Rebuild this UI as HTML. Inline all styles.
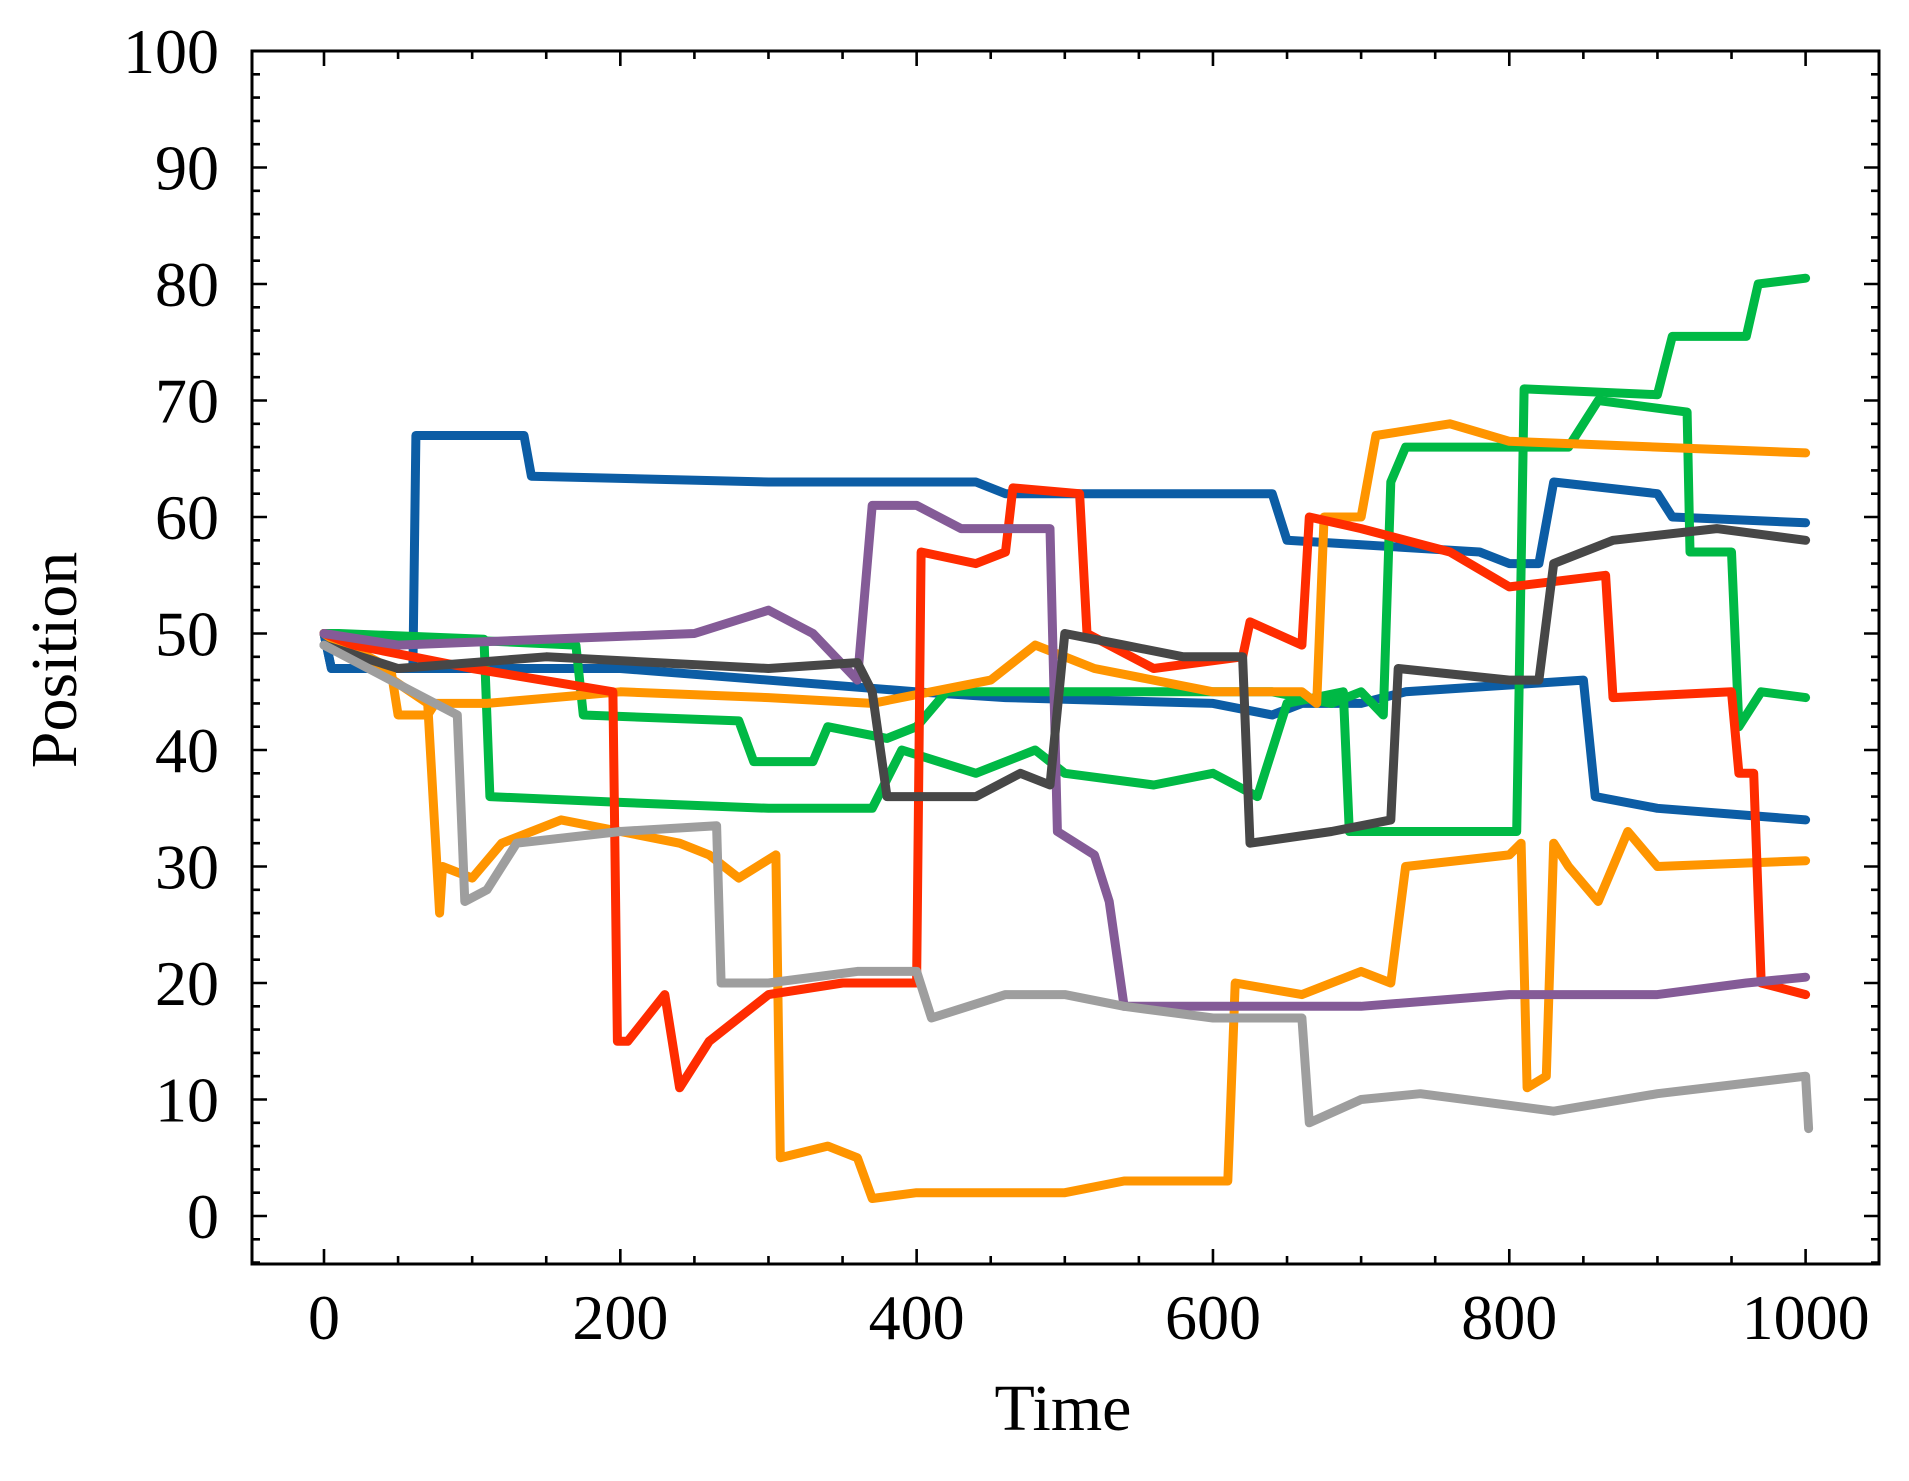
<!DOCTYPE html>
<html><head><meta charset="utf-8"><style>
html,body{margin:0;padding:0;background:#fff;}
svg text{font-family:"Liberation Serif",serif;fill:#000;}
</style></head><body>
<svg id="chart" width="1909" height="1476" viewBox="0 0 1909 1476" xmlns="http://www.w3.org/2000/svg">
<rect width="1909" height="1476" fill="#fff"/>
<g id="series"></g>
<g id="axes"></g>
</svg>
<script>
const xTicks=[0,200,400,600,800,1000];
const yTicks=[0,10,20,30,40,50,60,70,80,90,100];
const colors=["#0C5DA5","#0C5DA5","#00B945","#00B945","#FF9500","#FF9500","#FF2C00","#845B97","#474747","#9e9e9e"];
const s0t=[0,5,60,62,135,140,300,440,460,640,650,780,800,820,830,900,910,1000];
const s0v=[50,47,47,67,67,63.5,63,63,62,62,58,57,56,56,63,62,60,59.5];
const s1t=[0,5,200,400,460,600,640,660,700,730,850,858,900,1000];
const s1v=[50,47,47,45,44.5,44,43,44,44,45,46,36,35,34];
const s2t=[0,10,108,112,200,300,370,390,440,480,500,560,600,630,640,650,688,692,805,810,900,910,960,968,1000];
const s2v=[50,50,49.5,36,35.5,35,35,40,38,40,38,37,38,36,40,44,45,33,33,71,70.5,75.5,75.5,80,80.5];
const s3t=[0,170,175,280,290,330,340,380,400,420,520,640,680,700,715,720,730,840,860,920,922,950,955,970,1000];
const s3v=[50,49,43,42.5,39,39,42,41,42,45,45,45,44,45,43,63,66,66,70,69,57,57,42,45,44.5];
const s4t=[0,45,50,70,75,110,200,300,370,450,480,520,600,660,670,675,700,710,760,800,900,1000];
const s4v=[50,47,43,43,44,44,45,44.5,44,46,49,47,45,45,44,60,60,67,68,66.5,66,65.5];
const s5t=[0,70,78,80,100,120,160,200,240,260,280,305,308,340,360,370,400,500,540,610,615,660,700,720,730,800,808,812,825,830,840,860,880,900,1000];
const s5v=[50,44,26,30,29,32,34,33,32,31,29,31,5,6,5,1.5,2,2,3,3,20,19,21,20,30,31,32,11,12,32,30,27,33,30,30.5];
const s6t=[0,20,100,195,198,205,230,240,260,300,350,400,403,440,460,465,510,515,560,620,625,660,665,700,760,800,865,870,950,955,965,970,1000];
const s6v=[50,49,47,45,15,15,19,11,15,19,20,20,57,56,57,62.5,62,50,47,48,51,49,60,59,57,54,55,44.5,45,38,38,20,19];
const s7t=[0,50,150,250,300,330,360,370,400,430,490,495,520,530,540,600,700,800,900,960,1000];
const s7v=[50,49,49.5,50,52,50,46,61,61,59,59,33,31,27,18,18,18,19,19,20,20.5];
const s8t=[0,50,150,300,360,370,380,440,470,490,500,540,580,620,625,680,720,725,800,820,830,870,940,1000];
const s8v=[49,47,48,47,47.5,45,36,36,38,37,50,49,48,48,32,33,34,47,46,46,56,58,59,58];
const s9t=[0,60,90,95,110,130,200,265,268,300,360,400,410,460,500,540,600,660,665,700,740,800,830,900,1000,1002];
const s9v=[49,45,43,27,28,32,33,33.5,20,20,21,21,17,19,19,18,17,17,8,10,10.5,9.5,9,10.5,12,7.5];
const seriesT=[s0t,s1t,s2t,s3t,s4t,s5t,s6t,s7t,s8t,s9t];
const seriesV=[s0v,s1v,s2v,s3v,s4v,s5v,s6v,s7v,s8v,s9v];

const L=252,R=1879,T=51,B=1264;
const X0=324,X1=1805.6,Y100=51,Y0=1216;
const xs=v=>X0+(X1-X0)*v/1000;
const ys=v=>Y0+(Y100-Y0)*v/100;
const NS="http://www.w3.org/2000/svg";
const sg=document.getElementById('series'), ag=document.getElementById('axes');
function mk(tag,attrs,parent){const e=document.createElementNS(NS,tag);for(const k in attrs)e.setAttribute(k,attrs[k]);parent.appendChild(e);return e;}

seriesT.forEach((ts,i)=>{
  const vs=seriesV[i];
  const d=ts.map((t,j)=>(j?'L':'M')+xs(t).toFixed(1)+' '+ys(vs[j]).toFixed(1)).join(' ');
  const p=mk('path',{d:d,fill:'none',stroke:colors[i],'stroke-width':9,'stroke-linejoin':'round','stroke-linecap':'round'},sg);
  
  
});

const frame=mk('rect',{x:L,y:T,width:R-L,height:B-T,fill:'none',stroke:'#000','stroke-width':3},ag);



let td='';
for(let v=-50;v<=1050;v+=50){const x=xs(v);if(x<L||x>R)continue;const len=(v%200===0)?15:8;td+=`M${x} ${B}v${-len}M${x} ${T}v${len}`;}
for(let v=-4;v<=100;v+=2){const y=ys(v);if(y<T-0.5||y>B)continue;const len=(v%10===0)?15:8;td+=`M${L} ${y}h${len}M${R} ${y}h${-len}`;}
const tk=mk('path',{d:td,stroke:'#000','stroke-width':2.6,fill:'none'},ag);



xTicks.forEach(v=>{const t=mk('text',{x:xs(v),y:1339,'text-anchor':'middle','font-size':64},ag);t.textContent=v;

});
yTicks.forEach(v=>{const t=mk('text',{x:219,y:ys(v)+22,'text-anchor':'end','font-size':64},ag);t.textContent=v;

});
const xt=mk('text',{x:1063,y:1430,'text-anchor':'middle','font-size':66},ag);xt.textContent='Time';


const yt=mk('text',{x:0,y:0,'text-anchor':'middle','font-size':66,transform:'translate(76,660) rotate(-90)'},ag);yt.textContent='Position';


</script>
</body></html>
